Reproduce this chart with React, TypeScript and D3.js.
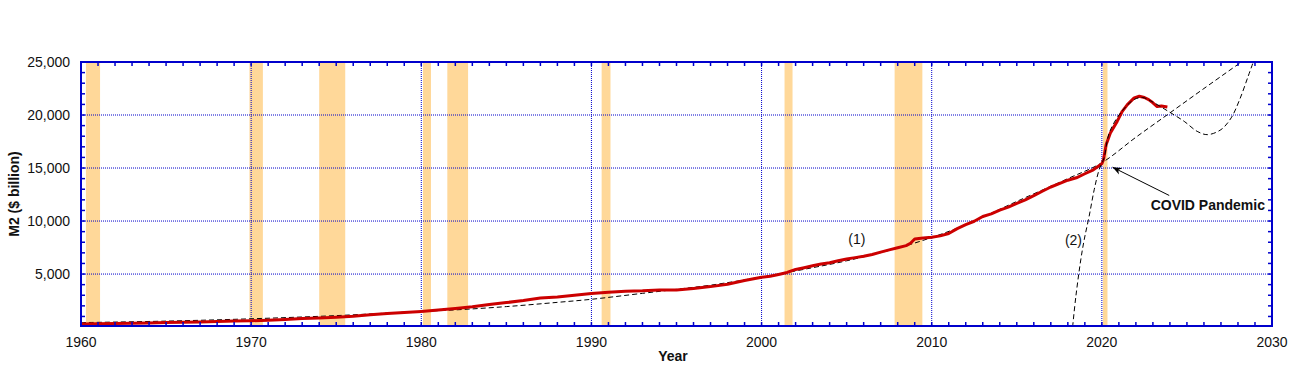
import React from 'react'
import * as d3 from 'd3'

// M2 money stock, $ billion
const m2Years = [
  1960, 1961, 1962, 1963, 1964, 1965, 1966, 1967, 1968, 1969, 1970, 1971, 1972, 1973, 1974,
  1975, 1976, 1977, 1978, 1979, 1980, 1981, 1982, 1983, 1984, 1985, 1986, 1987, 1988, 1989,
  1990, 1991, 1992, 1993, 1994, 1995, 1996, 1997, 1998, 1999, 2000, 2000.5, 2001, 2001.5,
  2002, 2002.5, 2003, 2003.5, 2004, 2004.5, 2005, 2005.5, 2006, 2006.5, 2007, 2007.5, 2008,
  2008.5, 2008.75, 2009, 2009.5, 2010, 2010.5, 2011, 2011.5, 2012, 2012.5, 2013, 2013.5, 2014,
  2014.5, 2015, 2015.5, 2016, 2016.5, 2017, 2017.5, 2018, 2018.5, 2019, 2019.5, 2020, 2020.1,
  2020.25, 2020.5, 2020.9, 2021.2, 2021.5, 2021.9, 2022.2, 2022.5, 2022.75, 2023, 2023.25,
  2023.5, 2023.85,
]
const m2Values = [
  298, 312, 334, 362, 390, 422, 452, 482, 528, 569, 600, 640, 709, 800, 856,
  930, 1016, 1152, 1270, 1366, 1474, 1600, 1757, 1910, 2126, 2310, 2495, 2732, 2831, 2994,
  3166, 3279, 3380, 3414, 3485, 3500, 3641, 3815, 4034, 4389, 4700, 4800, 4960, 5150,
  5434, 5600, 5780, 5950, 6070, 6250, 6422, 6550, 6680, 6850, 7070, 7280, 7480,
  7680, 7900, 8300, 8400, 8480, 8600, 8830, 9280, 9660, 9980, 10430, 10680, 11030,
  11310, 11670, 12000, 12390, 12810, 13210, 13520, 13850, 14080, 14460, 14830, 15400, 15800,
  17200, 18300, 19400, 20350, 20980, 21620, 21770, 21650, 21450, 21150, 20800,
  20850, 20750,
]

// dashed fit (1)
const fit1Years = [
  1960, 1965, 1970, 1975, 1980, 1982, 1985, 1988, 1990, 1993, 1995, 1997, 2000, 2003, 2005,
  2008, 2010, 2012, 2015, 2018, 2020, 2022, 2024, 2026, 2028.2,
]
const fit1Values = [
  420, 560, 780, 1080, 1480, 1620, 1930, 2330, 2620, 3180, 3560, 3950, 4720, 5600, 6250,
  7450, 8450, 9650, 11850, 14000, 15500, 17900, 20200, 22500, 25000,
]

// dashed fit (2)
const fit2Years = [
  2018.28, 2018.47, 2018.76, 2018.96, 2019.25, 2019.55, 2019.84, 2020.13, 2020.43, 2021.1,
  2021.9, 2022.4, 2022.9, 2023.9, 2024.84, 2025.6, 2026.2, 2027.0, 2027.6, 2028.1, 2028.6,
  2028.9,
]
const fit2Values = [
  0, 2860, 6330, 8220, 10430, 12950, 14840, 15950, 18300, 20200,
  21460, 21650, 21300, 20350, 19400, 18460, 18150, 18620, 19730, 21460, 23660,
  25000,
]

// recession periods (start, end)
const recessionStart = [1960.29, 1969.9, 1974.0, 1980.1, 1981.53, 1990.6, 2001.35, 2007.82, 2020.06]
const recessionEnd = [1961.12, 1970.69, 1975.53, 1980.57, 1982.75, 1991.12, 2001.82, 2009.45, 2020.33]

const xTickLabels = [1960, 1970, 1980, 1990, 2000, 2010, 2020, 2030]
const yTickLabels = [5000, 10000, 15000, 20000, 25000]

const W = 1292
const H = 366
const L = 81
const R = 1272
const T = 62
const B = 326
const BLUE = '#0000CC'
const FONT = "'Liberation Sans', Arial, sans-serif"

export default function App() {
  const x = d3.scaleLinear().domain([1960, 2030]).range([L, R])
  const y = d3.scaleLinear().domain([100, 25000]).range([B, T])

  const line = d3
    .line<[number, number]>()
    .x((d) => x(d[0]))
    .y((d) => y(d[1]))
  const smooth = d3
    .line<[number, number]>()
    .x((d) => x(d[0]))
    .y((d) => y(d[1]))
    .curve(d3.curveCatmullRom)

  const m2 = m2Years.map((t, i) => [t, m2Values[i]] as [number, number])
  const fit1 = fit1Years.map((t, i) => [t, fit1Values[i]] as [number, number])
  const fit2 = fit2Years.map((t, i) => [t, fit2Values[i]] as [number, number])

  const yearTicks = d3.range(1961, 2030)
  const kTicks = d3.range(1000, 25000, 1000)
  const fmt = d3.format(',')

  return (
    <svg
      width={W}
      height={H}
      style={{ position: 'absolute', left: 0, top: 0, background: '#fff' }}
      fontFamily={FONT}
    >
      <defs>
        <clipPath id="plot">
          <rect x={L} y={T} width={R - L} height={B - T} />
        </clipPath>
        <marker id="arrow" viewBox="0 0 10 10" refX="10" refY="5" markerWidth="9" markerHeight="9" orient="auto">
          <path d="M0,1 L10,5 L0,9 L3,5 Z" fill="#000" />
        </marker>
      </defs>

      {/* recession bars */}
      {recessionStart.map((s, i) => (
        <rect key={i} x={x(s)} y={T} width={x(recessionEnd[i]) - x(s)} height={B - T - 1} fill="#FFD899" />
      ))}

      {/* grid */}
      {yTickLabels.slice(0, -1).map((v) => (
        <line key={v} x1={L} x2={R} y1={y(v)} y2={y(v)} stroke={BLUE} strokeDasharray="1,1" />
      ))}
      {xTickLabels.slice(1, -1).map((v) => (
        <line key={v} x1={x(v)} x2={x(v)} y1={T} y2={B} stroke={BLUE} strokeDasharray="1,1" />
      ))}

      {/* lines */}
      <g clipPath="url(#plot)">
        <path d={smooth(fit1) || ''} fill="none" stroke="#000" strokeWidth={1} strokeDasharray="5,3" />
        <path d={line(m2) || ''} fill="none" stroke="#CC0000" strokeWidth={3} strokeLinejoin="round" />
        <path d={smooth(fit2) || ''} fill="none" stroke="#000" strokeWidth={1} strokeDasharray="5,3" />
      </g>

      {/* ticks */}
      {yearTicks.map((t) => (
        <g key={t} stroke={BLUE} strokeWidth={1.5}>
          <line x1={x(t)} x2={x(t)} y1={B} y2={B - 4} />
          <line x1={x(t)} x2={x(t)} y1={T} y2={T + 4} />
        </g>
      ))}
      {kTicks.map((v) => (
        <g key={v} stroke={BLUE} strokeWidth={1.5}>
          <line x1={L} x2={L + 4} y1={y(v)} y2={y(v)} />
          <line x1={R} x2={R - 4} y1={y(v)} y2={y(v)} />
        </g>
      ))}

      {/* frame */}
      <rect x={L} y={T} width={R - L} height={B - T} fill="none" stroke={BLUE} strokeWidth={2} />

      {/* tick labels */}
      {yTickLabels.map((v) => (
        <text key={v} x={L - 11} y={y(v)} dy="0.36em" textAnchor="end" fontSize={14} fill="#111">
          {fmt(v)}
        </text>
      ))}
      {xTickLabels.map((v) => (
        <text key={v} x={x(v)} y={347} textAnchor="middle" fontSize={14} fill="#111">
          {v}
        </text>
      ))}

      {/* axis titles */}
      <text x={673} y={361} textAnchor="middle" fontSize={14} fontWeight="bold" fill="#111">
        Year
      </text>
      <text
        transform={`translate(19,${(T + B) / 2}) rotate(-90)`}
        textAnchor="middle"
        fontSize={14}
        fontWeight="bold"
        fill="#111"
      >
        M2 ($ billion)
      </text>

      {/* annotations */}
      <text x={x(2005.6)} y={y(8290)} dy="0.36em" textAnchor="middle" fontSize={14} fill="#111">
        (1)
      </text>
      <text x={x(2018.33)} y={y(8220)} dy="0.36em" textAnchor="middle" fontSize={14} fill="#111">
        (2)
      </text>
      <line
        x1={x(2023.96)}
        y1={y(12410)}
        x2={x(2020.63)}
        y2={y(15076)}
        stroke="#000"
        strokeWidth={1}
        markerEnd="url(#arrow)"
      />
      <text x={1265} y={205} dy="0.36em" textAnchor="end" fontSize={14} fontWeight="bold" fill="#111">
        COVID Pandemic
      </text>
    </svg>
  )
}
